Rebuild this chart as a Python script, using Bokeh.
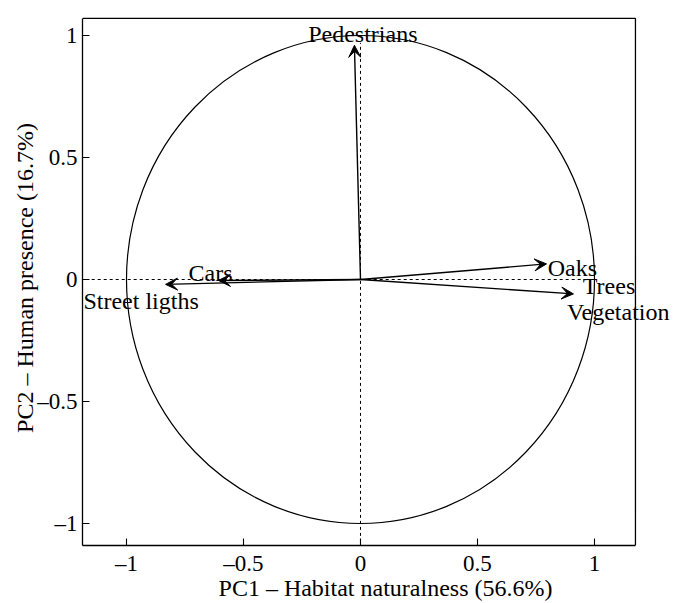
from bokeh.plotting import figure
from bokeh.models import (Arrow, VeeHead, ColumnDataSource, FixedTicker,
                          CustomJSTickFormatter, Range1d, Label)
from bokeh.embed import file_html
from bokeh.resources import INLINE

# ---- data (PCA loadings) ----
variables = ["Pedestrians", "Cars", "Street ligths", "Oaks", "Trees", "Vegetation"]
pc1 = [-0.026, -0.607, -0.833, 0.795, 0.95, 0.91]
pc2 = [0.96, -0.004, -0.02, 0.064, -0.005, -0.059]
show_arrow = [True, True, True, True, False, True]
ticks = [-1, -0.5, 0, 0.5, 1]
x_title = "PC1 \u2013 Habitat naturalness (56.6%)"
y_title = "PC2 \u2013 Human presence (16.7%)"

# plotting box limits (data units) and the view that leaves room for labels
box_x = (-1.188, 1.175)
box_y = (-1.09, 1.07)
view_x = (-1.188, 1.4017)
view_y = (-1.0902, 1.1025)

# label placement (layout)
lab_dx = [0.036, -0.128, -0.351, 0.005, 0.0, -0.028]
lab_dy = [0.048, 0.029, -0.07, -0.015, -0.02, -0.076]
lab_align = ["center", "left", "left", "left", "left", "left"]

FONT = "Liberation Serif"

p = figure(width=688, height=603, output_backend="svg", toolbar_location=None,
           x_range=Range1d(*view_x), y_range=Range1d(*view_y),
           min_border_left=82, min_border_right=0, min_border_top=10,
           min_border_bottom=58)
p.grid.visible = False
p.background_fill_color = "white"
p.border_fill_color = "white"
p.outline_line_color = None

for ax, b in ((p.xaxis[0], box_x), (p.yaxis[0], box_y)):
    ax.bounds = b
    ax.ticker = FixedTicker(ticks=ticks)
    ax.formatter = CustomJSTickFormatter(
        code="return tick < 0 ? '\u2013' + String(Math.abs(tick)) : String(tick);")
    ax.major_tick_in = 7
    ax.major_tick_out = 0
    ax.minor_tick_line_color = None
    ax.axis_line_color = "black"
    ax.axis_line_width = 1.3
    ax.major_tick_line_color = "black"
    ax.major_tick_line_width = 1.1
    ax.major_label_text_font = FONT
    ax.major_label_text_font_size = "23px"
    ax.major_label_text_color = "black"
    ax.axis_label_text_font = FONT
    ax.axis_label_text_font_size = "24px"
    ax.axis_label_text_font_style = "normal"
    ax.axis_label_text_color = "black"
p.xaxis.axis_label = x_title
p.yaxis.axis_label = y_title
p.xaxis.major_label_standoff = 5
p.yaxis.major_label_standoff = 5
p.xaxis.axis_label_standoff = -4
p.yaxis.axis_label_standoff = -4

# top and right edges of the box
p.line(x=[box_x[0], box_x[1], box_x[1]], y=[box_y[1], box_y[1], box_y[0]],
       line_color="black", line_width=1.3)

# dashed reference lines
p.line(x=[-1.2, 0.95], y=[0, 0], line_color="black", line_dash="3 3", line_width=1)
p.line(x=[0, 0], y=[-1.1, 0.97], line_color="black", line_dash="3 3", line_width=1)

# correlation circle
p.ellipse(x=0, y=0, width=2, height=2, fill_color=None, line_color="black", line_width=1.2)

# arrows
ax_end = [x for x, s in zip(pc1, show_arrow) if s]
ay_end = [y for y, s in zip(pc2, show_arrow) if s]
asrc = ColumnDataSource(dict(x0=[0] * len(ax_end), y0=[0] * len(ax_end), x1=ax_end, y1=ay_end))
p.add_layout(Arrow(end=VeeHead(size=12, fill_color="black", line_color="black", line_width=1),
                   x_start="x0", y_start="y0", x_end="x1", y_end="y1",
                   line_width=1.4, line_color="black", source=asrc))

# variable labels
for name, x, y, dx, dy, al in zip(variables, pc1, pc2, lab_dx, lab_dy, lab_align):
    p.add_layout(Label(x=x + dx, y=y + dy, text=name, text_align=al,
                       text_baseline="alphabetic", text_font=FONT,
                       text_font_size="24px", text_color="black"))

open("out.html", "w").write(file_html(p, INLINE))
